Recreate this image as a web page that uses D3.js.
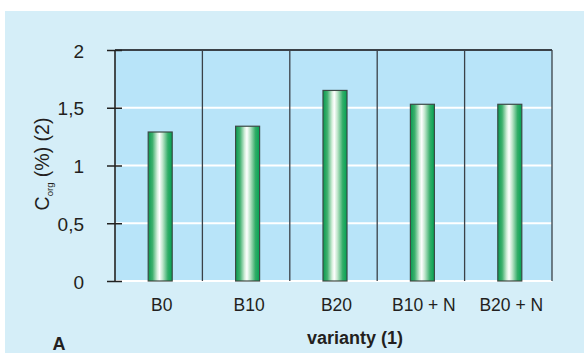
<!DOCTYPE html>
<html>
<head>
<meta charset="utf-8">
<script src="https://cdn.jsdelivr.net/npm/d3@7"></script>
<style>
  html, body { margin: 0; padding: 0; background: #ffffff; }
  svg { display: block; font-family: Arial, "Liberation Sans", sans-serif; }
</style>
</head>
<body>
<svg id="chart" width="584" height="353"></svg>
<script>
// Organic carbon content by variant
const categories = ["B0", "B10", "B20", "B10 + N", "B20 + N"];
const values = [1.29, 1.34, 1.65, 1.53, 1.53];
const yTicks = [0, 0.5, 1, 1.5, 2];
const yTickLabels = ["0", "0,5", "1", "1,5", "2"];

const svg = d3.select("#chart");
const W = 584, H = 353;
const plot = { left: 115, right: 552, top: 50, bottom: 281 };
const FONT = "Arial, 'Liberation Sans', sans-serif";
const INK = "#231f20";

// panel background
svg.append("rect").attr("x", 5).attr("y", 11).attr("width", W - 5).attr("height", H - 11)
  .attr("fill", "#d5eef8");

const x = d3.scaleBand().domain(categories).range([plot.left, plot.right]).padding(0);
const y = d3.scaleLinear().domain([0, 2]).range([plot.bottom, plot.top]);

// plot area
svg.append("rect").attr("x", plot.left).attr("y", plot.top)
  .attr("width", plot.right - plot.left).attr("height", plot.bottom - plot.top)
  .attr("fill", "#b8e4f9");

// horizontal gridlines
svg.append("g").selectAll("line").data(yTicks.filter(d => d < 2)).join("line")
  .attr("x1", plot.left).attr("x2", plot.right)
  .attr("y1", d => y(d)).attr("y2", d => y(d))
  .attr("stroke", "#ffffff").attr("stroke-width", 2);

// vertical category separators and right border
svg.append("g").selectAll("line").data(categories.slice(1).concat([null])).join("line")
  .attr("x1", d => d === null ? plot.right : x(d))
  .attr("x2", d => d === null ? plot.right : x(d))
  .attr("y1", plot.top).attr("y2", plot.bottom)
  .attr("stroke", "#3a4148").attr("stroke-width", 1.3);

// top border
svg.append("line").attr("x1", plot.left).attr("x2", plot.right)
  .attr("y1", plot.top).attr("y2", plot.top)
  .attr("stroke", "#3a4148").attr("stroke-width", 2);

// bar gradient (cylindrical shading)
const defs = svg.append("defs");
const grad = defs.append("linearGradient").attr("id", "barGrad")
  .attr("x1", "0%").attr("x2", "100%").attr("y1", "0%").attr("y2", "0%");
[[0, "#089a50"], [0.18, "#3fb06e"], [0.38, "#d6efdc"], [0.47, "#ffffff"],
 [0.6, "#bfe6cb"], [0.82, "#33ad68"], [1, "#00a352"]].forEach(([o, c]) =>
  grad.append("stop").attr("offset", o).attr("stop-color", c));

const barW = 24;
const barShift = 1.5;
svg.append("g").selectAll("rect").data(values).join("rect")
  .attr("x", (d, i) => x(categories[i]) + x.bandwidth() / 2 - barW / 2 + barShift)
  .attr("y", d => y(d))
  .attr("width", barW)
  .attr("height", d => y(0) - y(d))
  .attr("fill", "url(#barGrad)")
  .attr("stroke", "#3b4a45").attr("stroke-width", 1.2);

// y axis
const yAxis = d3.axisLeft(y).tickValues(yTicks)
  .tickFormat((d, i) => yTickLabels[i]).tickSize(0).tickPadding(0);
const gy = svg.append("g").attr("transform", `translate(${plot.left},0)`).call(yAxis);
gy.attr("font-size", null).attr("font-family", null);
gy.select(".domain").remove();
gy.selectAll(".tick line").remove();
gy.selectAll(".tick").append("line")
  .attr("x1", -8).attr("x2", 7).attr("stroke", "#222").attr("stroke-width", 1.5);
gy.selectAll(".tick text").attr("x", -31).attr("dy", "0.38em")
  .style("font-size", "19px").style("font-family", FONT).attr("fill", INK);
svg.append("line").attr("x1", plot.left).attr("x2", plot.left)
  .attr("y1", plot.top).attr("y2", plot.bottom)
  .attr("stroke", "#222").attr("stroke-width", 1.6);

// x axis labels
const xAxis = d3.axisBottom(x).tickSize(0).tickPadding(0);
const gx = svg.append("g").attr("transform", `translate(3,${plot.bottom})`).call(xAxis);
gx.attr("font-size", null).attr("font-family", null);
gx.select(".domain").remove();
gx.selectAll(".tick text").attr("y", 18)
  .style("font-size", "17.5px").style("font-family", FONT).attr("fill", INK);

// axis titles
svg.append("text").attr("x", 355).attr("y", 344).attr("text-anchor", "middle")
  .style("font-size", "18px").attr("font-weight", "bold").attr("fill", INK)
  .text("varianty (1)");

const yl = svg.append("text").attr("transform", "translate(49,164) rotate(-90)")
  .attr("text-anchor", "middle").style("font-size", "19.5px").attr("fill", INK);
yl.append("tspan").text("C");
yl.append("tspan").style("font-size", "9.5px").attr("dy", 4).text("org");
yl.append("tspan").attr("dy", -4).text(" (%) (2)");

svg.append("text").attr("x", 59).attr("y", 350).attr("text-anchor", "middle")
  .style("font-size", "18px").attr("font-weight", "bold").attr("fill", INK).text("A");
</script>
</body>
</html>
